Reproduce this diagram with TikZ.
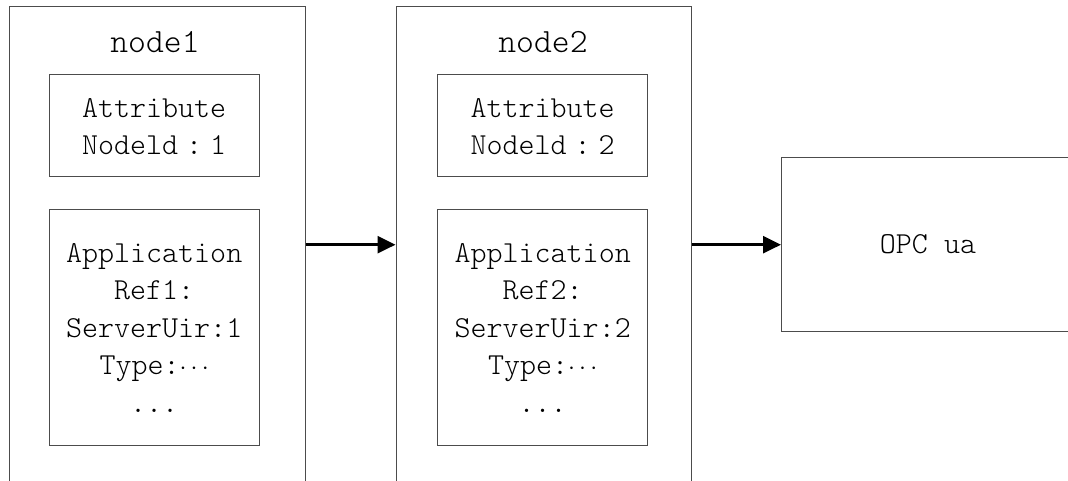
\documentclass[tikz,border=0pt]{standalone}
\usepackage{fontspec}
\newfontfamily\thinmono{Latin Modern Mono Light}
\usetikzlibrary{arrows.meta,calc}
\newcommand{\widecolon}{\kern8pt:\kern8pt}
\tikzset{
  frame/.style={draw=black!70, line width=1.4pt, anchor=north west, inner sep=0pt},
  label/.style={font=\fontsize{30.5}{37.5}\selectfont\thinmono, align=center, inner sep=0pt},
  title/.style={font=\fontsize{34}{40}\selectfont\thinmono, inner sep=0pt},
  flow/.style={line width=2.6pt, -{Triangle[length=18pt,width=17pt]}}
}
\begin{document}
\begin{tikzpicture}[x=1pt,y=-1pt]
\useasboundingbox (0,0) rectangle (1068,481);
\clip (0,0) rectangle (1068,481);
% outer node boxes (run past the lower edge)
\node[frame, minimum width=296pt, minimum height=520pt] (box1) at (8.5,6) {};
\node[frame, minimum width=295pt, minimum height=520pt] (box2) at (395.5,6) {};
% inner boxes
\node[frame, minimum width=210pt, minimum height=102pt] (attr1) at (48.5,74) {};
\node[frame, minimum width=210pt, minimum height=236pt] (app1) at (48.5,209) {};
\node[frame, minimum width=210pt, minimum height=102pt] (attr2) at (437,74) {};
\node[frame, minimum width=210pt, minimum height=236pt] (app2) at (437,209) {};
% target box (runs past the right edge)
\node[frame, minimum width=320pt, minimum height=174pt] (opc) at (781,157) {};
% texts
\node[title] (t1) at (155,42) {node1};
\node[title] (t2) at (543,42) {node2};
\node[label] (a1) at ($(attr1.center)+(0,1)$) {Attribute\\Nodeld\widecolon 1};
\node[label] (a2) at ($(attr2.center)+(0,1)$) {Attribute\\Nodeld\widecolon 2};
\node[label] (p1) at (app1.center) {Application\\Ref1:\\ServerUir:1\\Type:$\cdots$\\...};
\node[label] (p2) at (app2.center) {Application\\Ref2:\\ServerUir:2\\Type:$\cdots$\\...};
\node[label] (o) at ($(opc.north west)+(147,87)$) {OPC ua};
% connectors
\draw[flow] (box1.east |- opc.west) -- (box2.west |- opc.west);
\draw[flow] (box2.east |- opc.west) -- (opc.west);
\end{tikzpicture}
\end{document}
